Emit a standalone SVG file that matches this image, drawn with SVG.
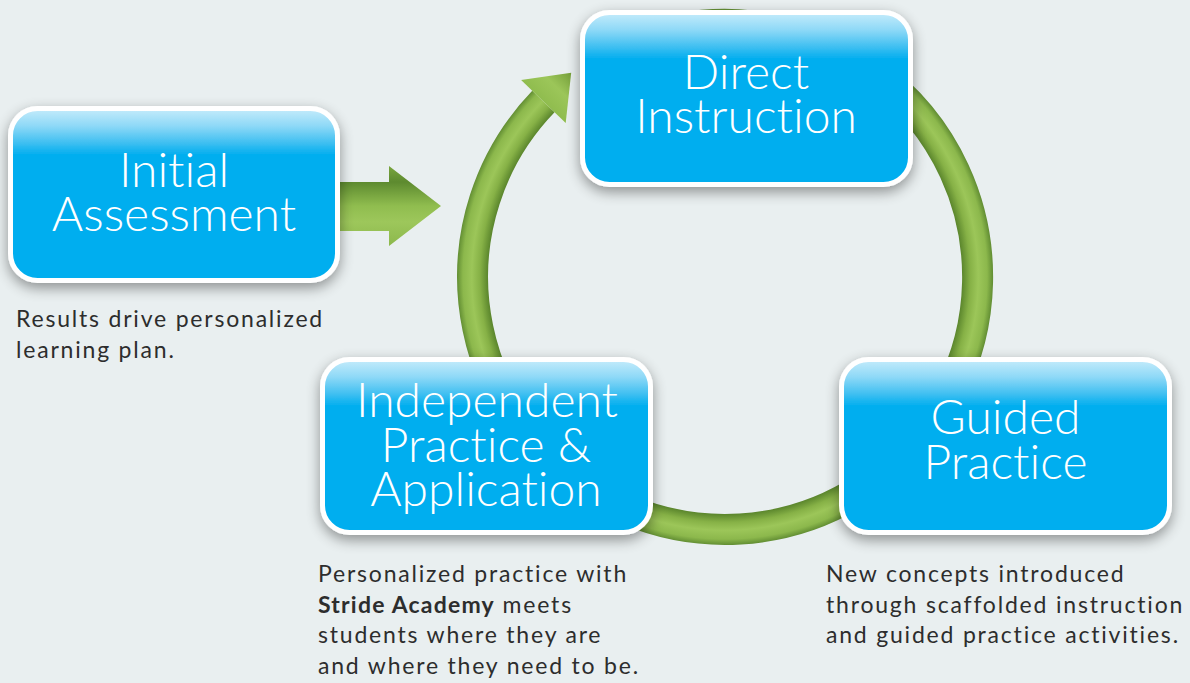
<svg xmlns="http://www.w3.org/2000/svg" width="1190" height="683" viewBox="0 0 1190 683">
<defs>
  <linearGradient id="boxFill" x1="0" y1="0" x2="0" y2="1">
    <stop offset="0" stop-color="#c6ecfb"/>
    <stop offset="0.1" stop-color="#8fd9f7"/>
    <stop offset="0.2" stop-color="#3fbff1"/>
    <stop offset="0.27" stop-color="#00aeef"/>
    <stop offset="1" stop-color="#00aeef"/>
  </linearGradient>
  <radialGradient id="ringGrad" gradientUnits="userSpaceOnUse" cx="725" cy="277" r="268">
    <stop offset="0.884" stop-color="#5a852c"/>
    <stop offset="0.915" stop-color="#86b146"/>
    <stop offset="0.945" stop-color="#9cc659"/>
    <stop offset="0.978" stop-color="#8cb84c"/>
    <stop offset="1" stop-color="#628e33"/>
  </radialGradient>
  <linearGradient id="headGrad" gradientUnits="userSpaceOnUse" x1="543" y1="102" x2="571" y2="73">
    <stop offset="0" stop-color="#8fbc4e"/>
    <stop offset="0.5" stop-color="#9cc659"/>
    <stop offset="1" stop-color="#76a03b"/>
  </linearGradient>
  <linearGradient id="arrowGrad" gradientUnits="userSpaceOnUse" x1="0" y1="166" x2="0" y2="246">
    <stop offset="0" stop-color="#7aa63e"/>
    <stop offset="0.2" stop-color="#5d8a2f"/>
    <stop offset="0.5" stop-color="#90bd4f"/>
    <stop offset="0.7" stop-color="#9dc75b"/>
    <stop offset="1" stop-color="#8cb84c"/>
  </linearGradient>
  <filter id="shadow" x="-15%" y="-20%" width="130%" height="145%">
    <feGaussianBlur in="SourceAlpha" stdDeviation="7"/>
    <feOffset dx="0" dy="5" result="b"/>
    <feComponentTransfer><feFuncA type="linear" slope="0.4"/></feComponentTransfer>
    <feMerge><feMergeNode/><feMergeNode in="SourceGraphic"/></feMerge>
  </filter>
</defs>
<style>
  .box { fill: url(#boxFill); stroke: #ffffff; stroke-width: 5; }
  .head { font-family: Lato, "Open Sans", "Liberation Sans", sans-serif; font-weight: 300; font-size: 48px; fill: #ffffff; text-anchor: middle; font-variant-ligatures: none; }
  .desc { font-family: Lato, "Open Sans", "Liberation Sans", sans-serif; font-weight: 400; font-size: 23px; letter-spacing: 1.8px; fill: #2d2d2d; font-variant-ligatures: none; }
  .bold { font-weight: 700; letter-spacing: 1.2px; }
</style>
<rect x="0" y="0" width="1190" height="683" fill="#e9eff0"/>

<g id="connectors">
  <path d="M 638.6 39.7 A 252.5 252.5 0 1 1 543.4 101.6" fill="none" stroke="url(#ringGrad)" stroke-width="31"/>
  <polygon points="521.1,80.1 571.2,72.8 565.7,123.1" fill="url(#headGrad)"/>
  <path d="M 335 182 H 389 V 166 L 441 206 L 389 246 V 231 H 335 Z" fill="url(#arrowGrad)"/>
</g>

<g id="initial-assessment">
  <rect class="box" x="10.5" y="108.5" width="327" height="172" rx="27" filter="url(#shadow)"/>
  <text class="head" x="174" y="187">Initial</text>
  <text class="head" x="174" y="231">Assessment</text>
</g>

<g id="direct-instruction">
  <rect class="box" x="582.5" y="12.5" width="328" height="172" rx="27" filter="url(#shadow)"/>
  <text class="head" x="746" y="89">Direct</text>
  <text class="head" x="746" y="133">Instruction</text>
</g>

<g id="independent-practice">
  <rect class="box" x="322.5" y="359.5" width="328" height="173" rx="27" filter="url(#shadow)"/>
  <text class="head" x="487" y="417">Independent</text>
  <text class="head" x="486" y="462">Practice &amp;</text>
  <text class="head" x="486" y="506">Application</text>
</g>

<g id="guided-practice">
  <rect class="box" x="841.5" y="359.5" width="328" height="173" rx="27" filter="url(#shadow)"/>
  <text class="head" x="1005.5" y="434">Guided</text>
  <text class="head" x="1005.5" y="479">Practice</text>
</g>

<g id="desc-initial">
  <text class="desc" x="16" y="327">Results drive personalized</text>
  <text class="desc" x="16" y="358">learning plan.</text>
</g>

<g id="desc-independent">
  <text class="desc" x="318" y="582">Personalized practice with</text>
  <text class="desc" x="318" y="613"><tspan class="bold">Stride Academy</tspan> meets</text>
  <text class="desc" x="318" y="643">students where they are</text>
  <text class="desc" x="318" y="674">and where they need to be.</text>
</g>

<g id="desc-guided">
  <text class="desc" x="826" y="582">New concepts introduced</text>
  <text class="desc" x="826" y="613">through scaffolded instruction</text>
  <text class="desc" x="826" y="643">and guided practice activities.</text>
</g>
</svg>
